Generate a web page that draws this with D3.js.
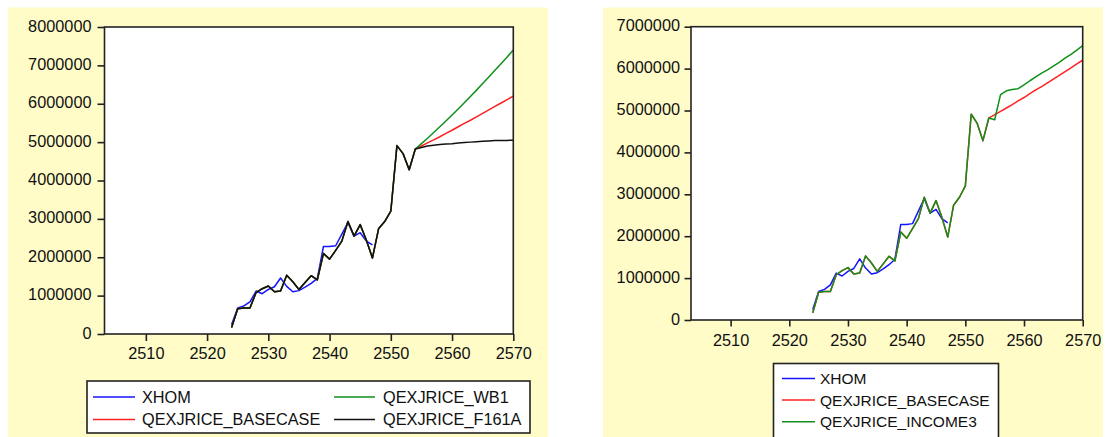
<!DOCTYPE html>
<html>
<head>
<meta charset="utf-8">
<script src="https://cdn.jsdelivr.net/npm/d3@7"></script>
<style>
  html, body { margin: 0; padding: 0; background: #ffffff; }
  svg { display: block; }
  text { font-family: "Liberation Sans", Arial, sans-serif; fill: #111111; }
</style>
</head>
<body>
<svg id="chart" width="1113" height="437"></svg>
<script>
// Annual rice export quantity (Thai calendar years), history and scenario forecasts
const historyStart = 2524;      // first year of the observed series
const forecastStart = 2555;     // first year of the scenario forecasts

const yearTicks = [2510, 2520, 2530, 2540, 2550, 2560, 2570];
const leftValueTicks = [0, 1000000, 2000000, 3000000, 4000000, 5000000, 6000000, 7000000, 8000000];
const rightValueTicks = [0, 1000000, 2000000, 3000000, 4000000, 5000000, 6000000, 7000000];

// XHOM, 2524-2547
const xhom = [250000, 680000, 730000, 840000, 1120000, 1050000, 1160000, 1230000, 1460000, 1240000,
  1100000, 1130000, 1220000, 1320000, 1450000, 2280000, 2280000, 2300000, 2600000, 2900000,
  2550000, 2640000, 2420000, 2320000];

// Fitted history shared by every scenario, 2524-2554
const fittedHistory = [170000, 660000, 680000, 680000, 1080000, 1180000, 1250000, 1100000, 1120000, 1530000,
  1360000, 1160000, 1340000, 1520000, 1410000, 2100000, 1950000, 2180000, 2420000, 2930000,
  2550000, 2850000, 2450000, 1980000, 2740000, 2930000, 3200000, 4910000, 4700000, 4280000,
  4820000];

// Scenario forecasts, 2555-2570
const basecaseForecast = [4900000, 4980000, 5060000, 5140000, 5230000, 5310000, 5400000, 5490000,
  5570000, 5660000, 5750000, 5840000, 5930000, 6020000, 6110000, 6200000];
const wb1Forecast = [4960000, 5100000, 5250000, 5400000, 5550000, 5705000, 5865000, 6025000,
  6190000, 6355000, 6525000, 6695000, 6870000, 7045000, 7220000, 7400000];
const f161aForecast = [4860000, 4900000, 4920000, 4940000, 4950000, 4960000, 4980000, 4990000,
  5000000, 5010000, 5020000, 5030000, 5040000, 5040000, 5045000, 5050000];
const income3Forecast = [4780000, 5380000, 5470000, 5500000, 5520000, 5610000, 5710000, 5800000,
  5890000, 5970000, 6060000, 6150000, 6250000, 6340000, 6440000, 6550000];

const seriesColors = { blue: "#1414ff", red: "#ff2020", green: "#10901a", black: "#111111" };

function toPoints(values, start) {
  return values.map((v, i) => ({ year: start + i, value: v }));
}
function scenario(forecast) {
  return toPoints(fittedHistory.concat(forecast), historyStart);
}

const panels = [
  {
    bg: { x0: 8, y0: 7.5, x1: 548, y1: 437 },
    plot: { x0: 104.5, y0: 27, x1: 513.3, y1: 334 },
    yMax: 8000000, yTicks: leftValueTicks,
    tickLen: 7, yLabelGap: 6, xLabelBaseline: 25,
    series: [
      { name: "XHOM", color: seriesColors.blue, data: toPoints(xhom, historyStart) },
      { name: "QEXJRICE_BASECASE", color: seriesColors.red, data: scenario(basecaseForecast) },
      { name: "QEXJRICE_WB1", color: seriesColors.green, data: scenario(wb1Forecast) },
      { name: "QEXJRICE_F161A", color: seriesColors.black, data: scenario(f161aForecast) }
    ],
    legend: {
      box: { x0: 87, y0: 381, x1: 530, y1: 433 }, fontSize: 16.3,
      items: [
        { idx: 0, lx0: 93, lx1: 135, tx: 142, cy: 397 },
        { idx: 1, lx0: 93, lx1: 135, tx: 142, cy: 419.5 },
        { idx: 2, lx0: 334, lx1: 375, tx: 383, cy: 397 },
        { idx: 3, lx0: 334, lx1: 375, tx: 383, cy: 419.5 }
      ]
    }
  },
  {
    bg: { x0: 603, y0: 7.5, x1: 1103, y1: 437 },
    plot: { x0: 691, y0: 26.7, x1: 1082.7, y1: 320 },
    yMax: 7000000, yTicks: rightValueTicks,
    tickLen: 6.5, yLabelGap: 4.5, xLabelBaseline: 26,
    series: [
      { name: "XHOM", color: seriesColors.blue, data: toPoints(xhom, historyStart) },
      { name: "QEXJRICE_BASECASE", color: seriesColors.red, data: scenario(basecaseForecast) },
      { name: "QEXJRICE_INCOME3", color: seriesColors.green, data: scenario(income3Forecast) }
    ],
    legend: {
      box: { x0: 773.5, y0: 363.5, x1: 998.5, y1: 450 }, fontSize: 15.5,
      items: [
        { idx: 0, lx0: 782, lx1: 815, tx: 820, cy: 378.5 },
        { idx: 1, lx0: 782, lx1: 815, tx: 820, cy: 400 },
        { idx: 2, lx0: 782, lx1: 815, tx: 820, cy: 421.8 }
      ]
    }
  }
];

const svg = d3.select("#chart");

panels.forEach(p => {
  const g = svg.append("g");

  g.append("rect")
    .attr("x", p.bg.x0).attr("y", p.bg.y0)
    .attr("width", p.bg.x1 - p.bg.x0).attr("height", p.bg.y1 - p.bg.y0)
    .attr("fill", "#fffcc8");

  const x = d3.scaleLinear().domain([2503.25, 2570]).range([p.plot.x0, p.plot.x1]);
  const y = d3.scaleLinear().domain([0, p.yMax]).range([p.plot.y1, p.plot.y0]);

  g.append("rect")
    .attr("x", p.plot.x0).attr("y", p.plot.y0)
    .attr("width", p.plot.x1 - p.plot.x0).attr("height", p.plot.y1 - p.plot.y0)
    .attr("fill", "#ffffff");

  const yAxis = d3.axisLeft(y).tickValues(p.yTicks).tickFormat(d3.format("d"))
    .tickSize(p.tickLen).tickPadding(p.yLabelGap);
  const yG = g.append("g").attr("transform", `translate(${p.plot.x0},0)`).call(yAxis);

  const xAxis = d3.axisBottom(x).tickValues(yearTicks).tickFormat(d3.format("d"))
    .tickSize(p.tickLen).tickPadding(0);
  const xG = g.append("g").attr("transform", `translate(0,${p.plot.y1})`).call(xAxis);

  [yG, xG].forEach(ax => {
    ax.select(".domain").remove();
    ax.selectAll(".tick line").attr("stroke", "#222").attr("stroke-width", 1.6);
    ax.selectAll(".tick text").attr("font-size", 16.3)
      .attr("font-family", "'Liberation Sans', Arial, sans-serif").attr("fill", "#111111");
  });
  yG.selectAll(".tick text").attr("dy", "0.25em");
  xG.selectAll(".tick text").attr("dy", 0).attr("y", p.xLabelBaseline);

  const line = d3.line().x(d => x(d.year)).y(d => y(d.value));
  const clipId = "clip" + Math.round(p.plot.x0);
  g.append("clipPath").attr("id", clipId).append("rect")
    .attr("x", p.plot.x0).attr("y", p.plot.y0)
    .attr("width", p.plot.x1 - p.plot.x0).attr("height", p.plot.y1 - p.plot.y0);

  g.append("g").attr("clip-path", `url(#${clipId})`)
    .selectAll("path").data(p.series).join("path")
    .attr("d", s => line(s.data))
    .attr("fill", "none")
    .attr("stroke", s => s.color)
    .attr("stroke-width", 1.5)
    .attr("stroke-linejoin", "round");

  g.append("rect")
    .attr("x", p.plot.x0).attr("y", p.plot.y0)
    .attr("width", p.plot.x1 - p.plot.x0).attr("height", p.plot.y1 - p.plot.y0)
    .attr("fill", "none").attr("stroke", "#222").attr("stroke-width", 1.6);

  const L = p.legend;
  g.append("rect")
    .attr("x", L.box.x0).attr("y", L.box.y0)
    .attr("width", L.box.x1 - L.box.x0).attr("height", L.box.y1 - L.box.y0)
    .attr("fill", "#ffffff").attr("stroke", "#222").attr("stroke-width", 1.6);

  const items = g.selectAll(".legend-item").data(L.items).join("g").attr("class", "legend-item");
  items.append("line")
    .attr("x1", d => d.lx0).attr("x2", d => d.lx1)
    .attr("y1", d => d.cy).attr("y2", d => d.cy)
    .attr("stroke", d => p.series[d.idx].color).attr("stroke-width", 1.5);
  items.append("text")
    .attr("x", d => d.tx).attr("y", d => d.cy)
    .attr("dy", "0.36em")
    .attr("font-size", L.fontSize)
    .text(d => p.series[d.idx].name);
});
</script>
</body>
</html>
